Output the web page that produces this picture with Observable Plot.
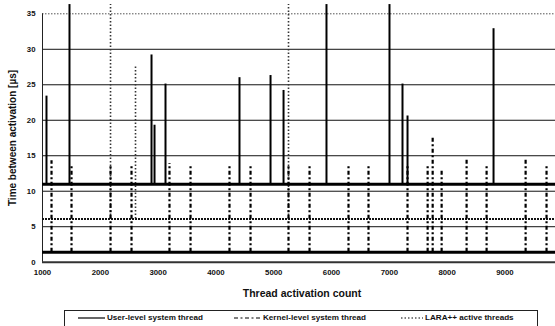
<!DOCTYPE html>
<html><head><meta charset="utf-8">
<script src="https://cdn.jsdelivr.net/npm/d3@7"></script>
<script src="https://cdn.jsdelivr.net/npm/@observablehq/plot@0.6"></script>
<style>
body{margin:0;background:#fff;font-family:"Liberation Sans",Arial,sans-serif;}
#wrap{position:relative;width:555px;height:326px;overflow:hidden;background:#fff}
#legend{position:absolute;left:64px;top:310px;width:474px;height:17px;border:1px solid #222;box-sizing:border-box;font-size:8.1px;font-weight:bold;color:#111}
.item{position:absolute;top:2px;display:flex;align-items:center;white-space:nowrap}
.item svg{margin-right:2px}
</style></head><body>
<div id="wrap"><div id="chart"></div><div id="legend"></div></div>
<script>
// Tick labels
const xTicks = [1000, 2000, 3000, 4000, 5000, 6000, 7000, 8000, 9000];
const yTicks = [0, 5, 10, 15, 20, 25, 30, 35];
const xLabel = "Thread activation count";
const yLabel = "Time between activation [µs]";

// Series names
const seriesNames = ["User-level system thread", "Kernel-level system thread", "LARA++ active threads"];

// User-level system thread: baseline and spikes
const userBase = 11.0;
const userSpikeX   = [1069, 1467, 2886, 2938, 3128, 4408, 4945, 5170, 5913, 7003, 7228, 7315, 8803];
const userSpikeTop = [23.4, 36.3, 29.2, 19.3, 25.1, 26.0, 26.3, 24.2, 36.3, 36.3, 25.1, 20.6, 32.9];

// Kernel-level system thread: baseline and spikes
const kernelBase = 1.4;
const kernelSpikeX   = [1156, 1502, 2177, 2540, 3197, 3561, 4235, 4599, 5256, 5620, 6294, 6640, 7315, 7663, 7750, 7905, 8337, 8683, 9358, 9720];
const kernelSpikeTop = [14.3, 13.8, 13.6, 13.6, 13.9, 13.8, 13.7, 13.6, 13.8, 13.5, 13.8, 13.6, 13.8, 13.6, 17.8, 12.9, 14.7, 13.6, 14.4, 13.8];

// LARA++ active threads: baseline and spikes
const laraBase = 6.1;
const laraSpikeX   = [2177, 2609, 5256];
const laraSpikeTop = [36.3, 27.8, 36.3];

const xDomain = [1000, 9875];
const yDomain = [0, 35];

const spikes = (xs, tops, base) => xs.map((x, i) => ({x, top: tops[i], base}));

const chart = Plot.plot({
  width: 555,
  height: 305,
  marginLeft: 42,
  marginRight: 0,
  marginTop: 13.3,
  marginBottom: 43.3,
  style: {fontFamily: "'Liberation Sans', Arial, sans-serif", background: "#fff", color: "#111"},
  x: {domain: xDomain},
  y: {domain: yDomain},
  marks: [
    Plot.ruleY(yTicks.filter(d => d > 0 && d < 35), {stroke: "#111", strokeWidth: 1}),
    Plot.ruleY([35], {stroke: "#555", strokeWidth: 1, strokeDasharray: "1.5,1.5"}),
    Plot.ruleY([0], {stroke: "#333", strokeWidth: 2}),
    Plot.ruleX([xDomain[0]], {stroke: "#222", strokeWidth: 1}),
    // LARA++ active threads (dotted)
    Plot.ruleY([laraBase], {stroke: "#111", strokeWidth: 2, strokeDasharray: "2,1"}),
    Plot.ruleX(spikes(laraSpikeX, laraSpikeTop, laraBase), {x: "x", y1: "base", y2: "top", stroke: "#333", strokeWidth: 1.6, strokeDasharray: "1.5,2"}),
    // Kernel-level system thread (dash-dot)
    Plot.ruleY([kernelBase], {stroke: "#000", strokeWidth: 3}),
    Plot.ruleX(spikes(kernelSpikeX, kernelSpikeTop, kernelBase), {x: "x", y1: "base", y2: "top", stroke: "#000", strokeWidth: 2.2, strokeDasharray: "4,2.5,2,2.5"}),
    // User-level system thread (solid)
    Plot.ruleY([userBase], {stroke: "#000", strokeWidth: 3}),
    Plot.ruleX(spikes(userSpikeX, userSpikeTop, userBase), {x: "x", y1: "base", y2: "top", stroke: "#000", strokeWidth: 2}),
    Plot.axisX(xTicks, {tickSize: 0, tickPadding: 7, fontSize: 7.8, fontWeight: "bold", tickFormat: d3.format("d"), label: null}),
    Plot.axisY(yTicks, {tickSize: 0, tickPadding: 7, fontSize: 7.8, fontWeight: "bold", label: null}),
    Plot.text([xLabel], {frameAnchor: "bottom", dy: 35, dx: 3, fontSize: 10.5, fontWeight: "bold", fill: "#111"}),
    Plot.text([yLabel], {frameAnchor: "left", dx: -30, rotate: -90, textAnchor: "middle", fontSize: 10, fontWeight: "bold", fill: "#111"})
  ]
});
document.getElementById("chart").appendChild(chart);

// Legend
const legend = document.getElementById("legend");
const swatches = [
  {left: 13, w: 27, dash: null},
  {left: 169, w: 27, dash: "4,2.5,2,2.5"},
  {left: 336, w: 22, dash: "1.5,2"}
];
seriesNames.forEach((name, i) => {
  const it = document.createElement("div");
  it.className = "item";
  it.style.left = swatches[i].left + "px";
  const svgNS = "http://www.w3.org/2000/svg";
  const s = document.createElementNS(svgNS, "svg");
  s.setAttribute("width", swatches[i].w); s.setAttribute("height", 8);
  const l = document.createElementNS(svgNS, "line");
  l.setAttribute("x1", 0); l.setAttribute("x2", swatches[i].w); l.setAttribute("y1", 4); l.setAttribute("y2", 4);
  l.setAttribute("stroke", "#000"); l.setAttribute("stroke-width", 1.2);
  if (swatches[i].dash) l.setAttribute("stroke-dasharray", swatches[i].dash);
  s.appendChild(l);
  it.appendChild(s);
  const t = document.createElement("span");
  t.textContent = name;
  it.appendChild(t);
  legend.appendChild(it);
});
</script>
</body></html>
